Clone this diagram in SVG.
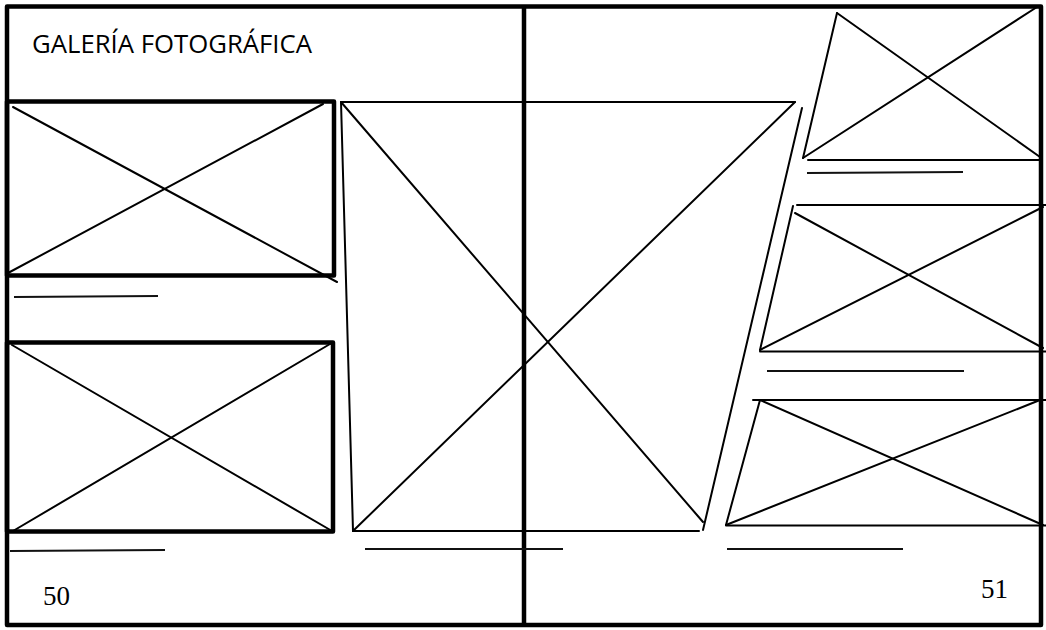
<svg xmlns="http://www.w3.org/2000/svg" width="1046" height="630" viewBox="0 0 1046 630">
<style>
.thin{fill:none;stroke:#000;stroke-width:2;stroke-linecap:round}
.cap{fill:none;stroke:#111;stroke-width:2}
.thick{fill:none;stroke:#000;stroke-width:4.5;stroke-linejoin:round}
.num{font-family:"Liberation Serif","Times New Roman",serif;font-size:27px;fill:#000}
.title{font-family:"Open Sans","Noto Sans","Liberation Sans",sans-serif;font-size:25px;fill:#000}
</style>
<rect width="1046" height="630" fill="#fff"/>
<g id="page">
<rect class="thick" x="7" y="6.5" width="1034" height="618.5"/>
<line class="thick" x1="524" y1="6.5" x2="524" y2="625"/>
</g>
<g id="title">
<text class="title" x="32" y="53" textLength="280" lengthAdjust="spacingAndGlyphs">GALERÍA FOTOGRÁFICA</text>
</g>
<g id="photo-left-top">
<rect class="thick" x="7" y="101.5" width="327" height="174"/>
<line class="thin" x1="13" y1="107" x2="337" y2="282"/>
<line class="thin" x1="8" y1="273" x2="323" y2="104"/>
<line class="cap" x1="14" y1="297" x2="158" y2="296"/>
</g>
<g id="photo-left-bottom">
<rect class="thick" x="7" y="342.5" width="326" height="189"/>
<line class="thin" x1="12" y1="345" x2="332" y2="531"/>
<line class="thin" x1="13" y1="531" x2="330" y2="344"/>
<line class="cap" x1="10" y1="551" x2="165" y2="550"/>
</g>
<g id="photo-center">
<line class="thin" x1="341" y1="102" x2="795" y2="102"/>
<line class="thin" x1="341" y1="102" x2="353" y2="531"/>
<line class="thin" x1="353" y1="531" x2="699" y2="531"/>
<line class="thin" x1="341" y1="102" x2="703" y2="522"/>
<line class="thin" x1="795" y1="102" x2="353" y2="531"/>
<line class="thin" x1="802" y1="108" x2="703" y2="530"/>
<line class="cap" x1="365" y1="549" x2="563" y2="549"/>
</g>
<g id="photo-right-top">
<line class="thin" x1="837" y1="13" x2="803" y2="158"/>
<line class="thin" x1="808" y1="160" x2="1040" y2="160"/>
<line class="thin" x1="837" y1="13" x2="1040" y2="157"/>
<line class="thin" x1="803" y1="158" x2="1037" y2="7"/>
<line class="cap" x1="807" y1="173" x2="963" y2="172"/>
</g>
<g id="photo-right-middle">
<line class="thin" x1="797" y1="205" x2="1046" y2="205"/>
<line class="thin" x1="793" y1="206" x2="760" y2="350"/>
<line class="thin" x1="760" y1="351.5" x2="1046" y2="351.5"/>
<line class="thin" x1="795" y1="213" x2="1043" y2="348"/>
<line class="thin" x1="760" y1="350" x2="1043" y2="207"/>
<line class="cap" x1="767" y1="371" x2="964" y2="371"/>
</g>
<g id="photo-right-bottom">
<line class="thin" x1="753" y1="400" x2="1046" y2="400"/>
<line class="thin" x1="760" y1="400" x2="726" y2="525"/>
<line class="thin" x1="726" y1="525.5" x2="1046" y2="525.5"/>
<line class="thin" x1="760" y1="400" x2="1043" y2="525"/>
<line class="thin" x1="726" y1="525" x2="1040" y2="400"/>
<line class="cap" x1="727" y1="549" x2="903" y2="549"/>
</g>
<g id="page-numbers">
<text class="num" x="43" y="605">50</text>
<text class="num" x="981" y="598">51</text>
</g>
<g id="connectors"/>
</svg>
